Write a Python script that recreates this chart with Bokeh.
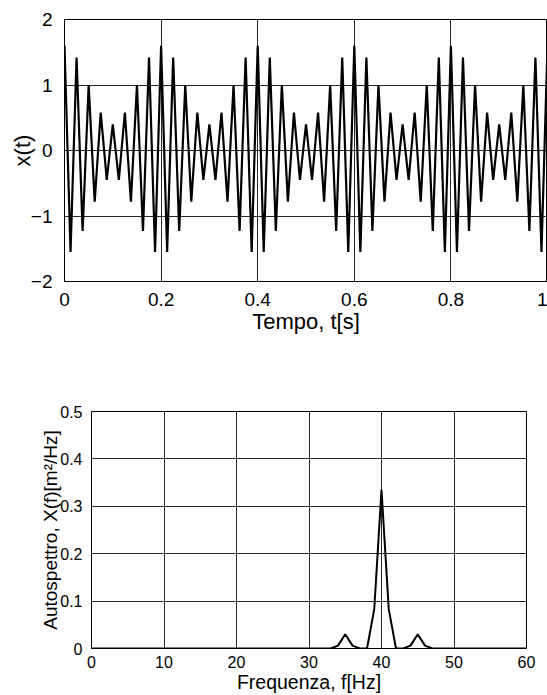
from bokeh.plotting import figure
from bokeh.models import Range1d, FixedTicker
from bokeh.embed import file_html
from bokeh.resources import INLINE

# ---- data: top plot, peaks and troughs of x(t) ----
t_vals = [
    0.0, 0.0125, 0.025, 0.0375, 0.05, 0.0625, 0.075, 0.0875, 0.1, 0.1125, 0.125, 0.1375, 0.15, 0.1625, 0.175, 0.1875,
    0.2, 0.2125, 0.225, 0.2375, 0.25, 0.2625, 0.275, 0.2875, 0.3, 0.3125, 0.325, 0.3375, 0.35, 0.3625, 0.375, 0.3875,
    0.4, 0.4125, 0.425, 0.4375, 0.45, 0.4625, 0.475, 0.4875, 0.5, 0.5125, 0.525, 0.5375, 0.55, 0.5625, 0.575, 0.5875,
    0.6, 0.6125, 0.625, 0.6375, 0.65, 0.6625, 0.675, 0.6875, 0.7, 0.7125, 0.725, 0.7375, 0.75, 0.7625, 0.775, 0.7875,
    0.8, 0.8125, 0.825, 0.8375, 0.85, 0.8625, 0.875, 0.8875, 0.9, 0.9125, 0.925, 0.9375, 0.95, 0.9625, 0.975, 0.9875,
    1.0,
]
x_vals = [
    1.60, -1.55, 1.42, -1.23, 1.00, -0.78, 0.58, -0.45, 0.40, -0.45, 0.58, -0.78, 1.00, -1.23, 1.42, -1.55,
    1.60, -1.55, 1.42, -1.23, 1.00, -0.78, 0.58, -0.45, 0.40, -0.45, 0.58, -0.78, 1.00, -1.23, 1.42, -1.55,
    1.60, -1.55, 1.42, -1.23, 1.00, -0.78, 0.58, -0.45, 0.40, -0.45, 0.58, -0.78, 1.00, -1.23, 1.42, -1.55,
    1.60, -1.55, 1.42, -1.23, 1.00, -0.78, 0.58, -0.45, 0.40, -0.45, 0.58, -0.78, 1.00, -1.23, 1.42, -1.55,
    1.60, -1.55, 1.42, -1.23, 1.00, -0.78, 0.58, -0.45, 0.40, -0.45, 0.58, -0.78, 1.00, -1.23, 1.42, -1.55,
    1.60,
]

# ---- data: bottom plot, autospectrum ----
freq_vals = list(range(0, 61))
spec_vals = [
    0, 0, 0, 0, 0, 0, 0, 0, 0, 0,            # 0-9
    0, 0, 0, 0, 0, 0, 0, 0, 0, 0,            # 10-19
    0, 0, 0, 0, 0, 0, 0, 0, 0, 0,            # 20-29
    0, 0, 0, 0, 0.006, 0.030, 0.006, 0, 0, 0.083,   # 30-39
    0.335, 0.083, 0, 0, 0.006, 0.030, 0.006, 0, 0, 0,  # 40-49
    0, 0, 0, 0, 0, 0, 0, 0, 0, 0,            # 50-59
    0,                                       # 60
]

top_xticks = [0, 0.2, 0.4, 0.6, 0.8, 1]
top_xlabels = ["0", "0.2", "0.4", "0.6", "0.8", "1"]
top_yticks = [-2, -1, 0, 1, 2]
top_ylabels = ["\u22122", "\u22121", "0", "1", "2"]
bot_xticks = [0, 10, 20, 30, 40, 50, 60]
bot_xlabels = ["0", "10", "20", "30", "40", "50", "60"]
bot_yticks = [0, 0.1, 0.2, 0.3, 0.4, 0.5]
bot_ylabels = ["0", "0.1", "0.2", "0.3", "0.4", "0.5"]

FONT = "Liberation Sans"


def style(p, xt, xl, yt, yl, tick_fs, xlabel_fs, ylabel_fs, xstand, ystand, xlab_st, ylab_st):
    p.xaxis.ticker = FixedTicker(ticks=xt)
    p.yaxis.ticker = FixedTicker(ticks=yt)
    p.xaxis.major_label_overrides = {k: v for k, v in zip(xt, xl)}
    p.yaxis.major_label_overrides = {k: v for k, v in zip(yt, yl)}
    for ax in p.axis:
        ax.major_label_text_font = FONT
        ax.major_label_text_font_size = tick_fs
        ax.major_label_text_color = "black"
        ax.axis_label_text_font = FONT
        ax.axis_label_text_font_style = "normal"
        ax.axis_label_text_color = "black"
        ax.major_tick_line_color = None
        ax.minor_tick_line_color = None
        ax.axis_line_color = "black"
    p.xaxis.axis_label_text_font_size = xlabel_fs
    p.yaxis.axis_label_text_font_size = ylabel_fs
    p.xaxis.major_label_standoff = xstand
    p.yaxis.major_label_standoff = ystand
    p.xaxis.axis_label_standoff = xlab_st
    p.yaxis.axis_label_standoff = ylab_st
    p.grid.grid_line_color = "black"
    p.grid.grid_line_alpha = 0.85
    p.grid.grid_line_width = 1
    p.outline_line_color = "black"
    p.outline_line_alpha = 1
    p.background_fill_color = "white"
    p.border_fill_color = "white"


p1 = figure(width=547, height=340, output_backend="svg", toolbar_location=None,
            x_range=Range1d(0, 1), y_range=Range1d(-2, 2),
            min_border_left=64, min_border_right=0, min_border_top=19, min_border_bottom=59,
            x_axis_label="Tempo, t[s]", y_axis_label="x(t)")
p1.line(t_vals, x_vals, line_color="black", line_width=2.2)
style(p1, top_xticks, top_xlabels, top_yticks, top_ylabels, "19px", "22px", "22px", 5, 6, 0, -7)

p2 = figure(width=547, height=355, output_backend="svg", toolbar_location=None,
            x_range=Range1d(0, 60), y_range=Range1d(0, 0.5),
            min_border_left=91, min_border_right=21, min_border_top=71, min_border_bottom=47,
            x_axis_label="Frequenza, f[Hz]", y_axis_label="Autospettro, X(f)[m\u00b2/Hz]")
p2.line(freq_vals, spec_vals, line_color="black", line_width=2)
style(p2, bot_xticks, bot_xlabels, bot_yticks, bot_ylabels, "16px", "19.5px", "19px", 1, 3, 0, -4)

open("out.html", "w").write(file_html([p1, p2], INLINE))
